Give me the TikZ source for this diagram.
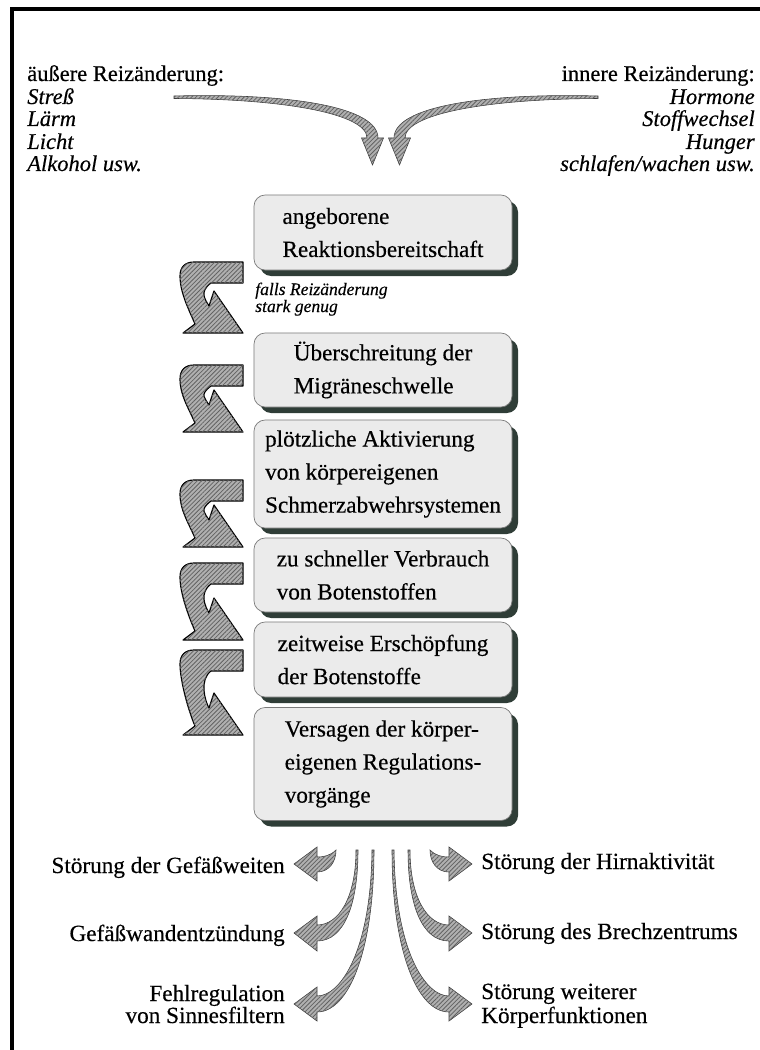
\documentclass[tikz,border=0pt]{standalone}
\usepackage{fontspec}
\setmainfont{Liberation Serif}[FakeBold=0.4]
\newfontfamily\notefont{Liberation Serif}[FakeBold=0.3]
\usepackage{tikz}
\usetikzlibrary{shadows,patterns.meta}

\definecolor{boxfill}{HTML}{EBEBEB}
\definecolor{boxline}{HTML}{7A7A7A}
\definecolor{boxshade}{HTML}{2F3D37}
\definecolor{arrowfill}{HTML}{B0B0B0}
\definecolor{hatch}{HTML}{626262}

\tikzset{
  stepbox/.style={draw=boxline, line width=0.5pt, fill=boxfill, rounded corners=0.28cm,
    minimum width=6.45cm, align=left, inner sep=0pt, font=\fontsize{16.5}{23.5}\selectfont,
    drop shadow={shadow xshift=0.15cm, shadow yshift=-0.15cm, opacity=1, fill=boxshade}},
  hatched/.style={fill=arrowfill, postaction={pattern={Lines[angle=45, distance=2.2pt, line width=0.6pt]}, pattern color=hatch}},
  bigarrow/.style={hatched, draw=black, line width=0.8pt, line join=round},
  thinarrow/.style={hatched, draw=hatch!60!black, line width=0.4pt},
  toplbl/.style={inner sep=0pt, font=\fontsize{16}{16}\selectfont},
  outlbl/.style={inner sep=0pt, font=\fontsize{16.5}{16.5}\selectfont},
  notelbl/.style={inner sep=0pt, font=\notefont\fontsize{12.5}{12.5}\selectfont\itshape},
}

\begin{document}
\begin{tikzpicture}[x=0.025cm, y=-0.025cm]
    \useasboundingbox (0,0) rectangle (760,1050);
    \draw[line width=2.2pt] (760,9) -- (12,9) -- (12,1050);

    \foreach \y/\txt [count=\i] in {81/{äußere Reizänderung:}, 104/{\textit{Streß}}, 126/{\textit{Lärm}}, 149/{\textit{Licht}}, 171/{\textit{Alkohol usw.}}} {
        \node[toplbl, anchor=base west] (aussen\i) at (27,\y) {\txt};
    }
    \foreach \y/\txt [count=\i] in {81/{innere Reizänderung:}, 104/{\textit{Hormone}}, 126/{\textit{Stoffwechsel}}, 149/{\textit{Hunger}}, 171/{\textit{schlafen/wachen usw.}}} {
        \node[toplbl, anchor=base east] (innen\i) at (755,\y) {\txt};
    }

    \foreach \s in {-1,1} {
        \draw[thinarrow] ({386+\s*212},96) .. controls ({386+\s*100},93) and ({386+\s*8},106) .. ({386+\s*8},138)
            -- ({386+\s*2.5},138) -- ({386+\s*13.5},165) -- ({386+\s*24.5},138) -- ({386+\s*19},138)
            .. controls ({386+\s*19},114) and ({386+\s*100},99) .. ({386+\s*212},98.5) -- cycle;
    }

    \node[stepbox, minimum height=1.875cm] (reakt) at (383,232.5) {angeborene\\Reaktionsbereitschaft};
    \node[stepbox, minimum height=1.85cm] (schwelle) at (383,370) {Überschreitung der\\Migräneschwelle};
    \node[stepbox, minimum height=2.7cm] (aktiv) at (383,474) {plötzliche Aktivierung\\von körpereigenen\\Schmerzabwehrsystemen};
    \node[stepbox, minimum height=1.85cm] (verbrauch) at (383,575) {zu schneller Verbrauch\\von Botenstoffen};
    \node[stepbox, minimum height=1.875cm] (erschoepf) at (383,659.5) {zeitweise Erschöpfung\\der Botenstoffe};
    \node[stepbox, minimum height=2.825cm] (versagen) at (383,764) {Versagen der körper-\\eigenen Regulations-\\vorgänge};

    \node[notelbl, anchor=base west] (falls1) at (255,295) {falls Reizänderung};
    \node[notelbl, anchor=base west] (falls2) at (255,312) {stark genug};

    \foreach \ya/\yb in {262/333, 365/432, 480/547, 563/640, 650/735} {
        \draw[bigarrow] (243,\ya) -- (194,\ya) .. controls (185,\ya) and (180,\ya+5) .. (180,\ya+14)
            .. controls (180,\ya+30) and (188,\yb-25) .. (195,\yb-9) -- (183,\yb) -- (243,\yb)
            -- (214,\yb-42) -- (209,\yb-27) .. controls (205,\yb-34) and (199,\ya+30) .. (211,\ya+21)
            -- (243,\ya+21) -- cycle;
    }

    \foreach \s in {-1,1} {
        \draw[thinarrow] ({383+\s*47},850) .. controls ({383+\s*53},856) and ({383+\s*60},857) .. ({383+\s*66},857)
            -- ({383+\s*66},847) -- ({383+\s*89},864) -- ({383+\s*66},881) -- ({383+\s*66},872)
            .. controls ({383+\s*54},872) and ({383+\s*47},862) .. ({383+\s*47},850) -- cycle;
        \draw[thinarrow] ({383+\s*27},850) .. controls ({383+\s*27},897) and ({383+\s*44},925) .. ({383+\s*66},925)
            -- ({383+\s*66},916) -- ({383+\s*89},933) -- ({383+\s*66},951) -- ({383+\s*66},941)
            .. controls ({383+\s*39},941) and ({383+\s*25},905) .. ({383+\s*25},850) -- cycle;
        \draw[thinarrow] ({383+\s*11},850) .. controls ({383+\s*12},950) and ({383+\s*42},996) .. ({383+\s*66},996)
            -- ({383+\s*66},987) -- ({383+\s*89},1004) -- ({383+\s*66},1021) -- ({383+\s*66},1012)
            .. controls ({383+\s*34},1012) and ({383+\s*9},950) .. ({383+\s*9},850) -- cycle;
    }

    \node[outlbl, anchor=base east] (gefweit) at (285,873) {Störung der Gefäßweiten};
    \node[outlbl, anchor=base east] (gefwand) at (285,941) {Gefäßwandentzündung};
    \node[outlbl, anchor=base east] (fehl1) at (285,1001) {Fehlregulation};
    \node[outlbl, anchor=base east] (fehl2) at (285,1023) {von Sinnesfiltern};
    \node[outlbl, anchor=base west] (hirn) at (481,869) {Störung der Hirnaktivität};
    \node[outlbl, anchor=base west] (brech) at (481,939) {Störung des Brechzentrums};
    \node[outlbl, anchor=base west] (weiter1) at (481,999) {Störung weiterer};
    \node[outlbl, anchor=base west] (weiter2) at (481,1023) {Körperfunktionen};
\end{tikzpicture}
\end{document}
